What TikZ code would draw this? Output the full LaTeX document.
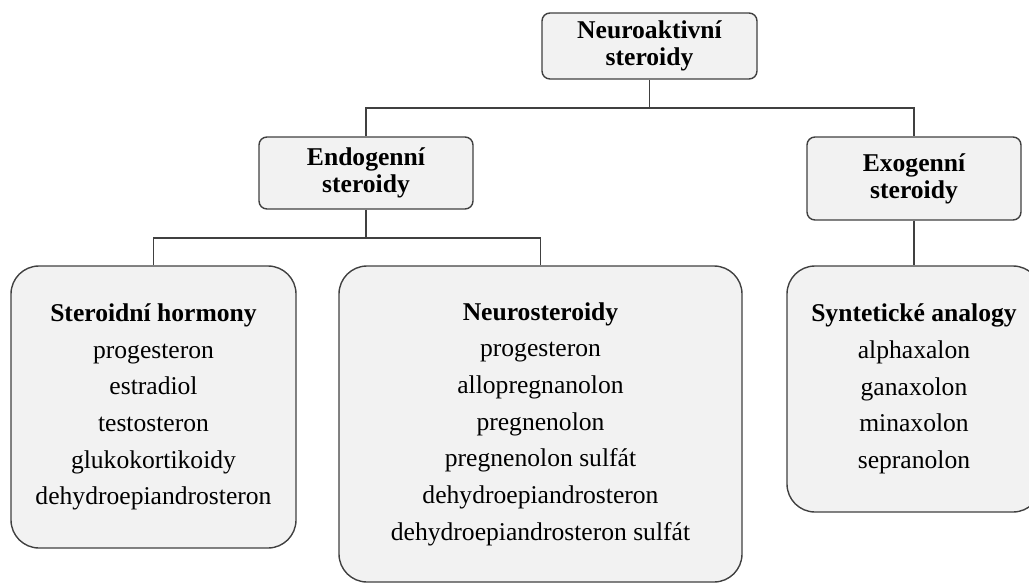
\documentclass[tikz,border=0pt]{standalone}
\usepackage{fontspec}
\setmainfont{Liberation Serif}
\definecolor{linec}{HTML}{404040}
\definecolor{fillc}{HTML}{F2F2F2}
\begin{document}
\begin{tikzpicture}[x=1pt,y=-1pt,
  box/.style={draw=linec, fill=fillc, line width=1.4pt, align=center, inner sep=0pt},
  head/.style={box, rounded corners=8pt, font=\fontsize{25.6}{27}\selectfont\bfseries},
  leaf/.style={box, rounded corners=28pt, font=\fontsize{25.6}{36.7}\selectfont},
  conn/.style={draw=linec, line width=1.4pt}]
\useasboundingbox (0,0) rectangle (1029,584);
\clip (0,0) rectangle (1029,584);
\node[head, minimum width=215pt, minimum height=66pt] (root) at (649.5,46) {Neuroaktivní\\steroidy};
\node[head, minimum width=214pt, minimum height=72pt] (endo) at (366,173) {Endogenní\\steroidy};
\node[head, minimum width=214pt, minimum height=83pt] (exo) at (914,178.5) {Exogenní\\steroidy};
\node[leaf, minimum width=285pt, minimum height=282pt] (hor) at (153.5,407) {\textbf{Steroidní hormony}\\progesteron\\estradiol\\testosteron\\glukokortikoidy\\dehydroepiandrosteron};
\node[leaf, minimum width=403pt, minimum height=316pt] (neu) at (540.5,424) {\textbf{Neurosteroidy}\\progesteron\\allopregnanolon\\pregnenolon\\pregnenolon sulfát\\dehydroepiandrosteron\\dehydroepiandrosteron sulfát};
\node[leaf, minimum width=254pt, minimum height=246pt] (syn) at (914,389) {\textbf{Syntetické analogy}\\alphaxalon\\ganaxolon\\minaxolon\\sepranolon};
\coordinate (j1) at (649.5,108);
\coordinate (j2) at (366,238);
\draw[conn] (root.south) -- (j1);
\draw[conn] (endo.north) -- (endo.north |- j1) -- (exo.north |- j1) -- (exo.north);
\draw[conn] (endo.south) -- (j2);
\draw[conn] (hor.north) -- (hor.north |- j2) -- (neu.north |- j2) -- (neu.north);
\draw[conn] (exo.south) -- (syn.north);
\end{tikzpicture}
\end{document}
